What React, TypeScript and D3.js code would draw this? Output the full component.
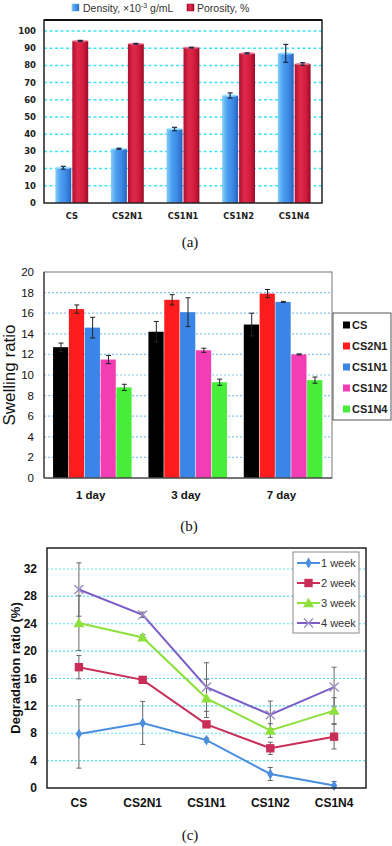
import React from 'react';
import * as d3 from 'd3';

// panel (a)
const cats = ['CS', 'CS2N1', 'CS1N1', 'CS1N2', 'CS1N4'];
const density = [20.5, 31.5, 43, 62.5, 87];
const densityErr = [0.8, 0.3, 1.0, 1.5, 5.2];
const porosity = [94.2, 92.5, 90.3, 87.0, 80.8];
const porosityErr = [0.3, 0.2, 0.2, 0.3, 0.8];
const ticksA = [0, 10, 20, 30, 40, 50, 60, 70, 80, 90, 100];

// panel (b)
const days = ['1 day', '3 day', '7 day'];
const swellSeries = ['CS', 'CS2N1', 'CS1N1', 'CS1N2', 'CS1N4'];
const swellColors = ['#000000', '#ff1c1c', '#3a86e6', '#f43cb4', '#46ee3a'];
const swCS = [12.7, 14.2, 14.9];
const swCS2N1 = [16.4, 17.3, 17.9];
const swCS1N1 = [14.6, 16.1, 17.1];
const swCS1N2 = [11.5, 12.4, 12.0];
const swCS1N4 = [8.8, 9.3, 9.5];
const swErrCS = [0.4, 1.0, 1.1];
const swErrCS2N1 = [0.4, 0.5, 0.4];
const swErrCS1N1 = [1.0, 1.4, 0.05];
const swErrCS1N2 = [0.4, 0.2, 0.05];
const swErrCS1N4 = [0.3, 0.3, 0.3];
const ticksB = [0, 2, 4, 6, 8, 10, 12, 14, 16, 18, 20];

// panel (c)
const weeks = ['1 week', '2 week', '3 week', '4 week'];
const weekColors = ['#4a8ee0', '#c82e58', '#8ee03c', '#7c5cc8'];
const wk1 = [7.9, 9.5, 7.0, 2.05, 0.35];
const wk2 = [17.65, 15.8, 9.3, 5.8, 7.5];
const wk3 = [24.1, 22.0, 13.1, 8.4, 11.3];
const wk4 = [29.0, 25.3, 14.75, 10.7, 14.75];
const wk1Err = [5.0, 3.15, 0.3, 0.95, 0.6];
const wk2Err = [1.7, 0.3, 0.3, 0.9, 1.8];
const wk3Err = [4.0, 0.4, 2.8, 1.0, 1.9];
const wk4Err = [3.9, 0.4, 3.55, 2.0, 2.9];
const ticksC = [0, 4, 8, 12, 16, 20, 24, 28, 32];

const sans = '"Liberation Sans", Arial, sans-serif';
const dvs = '"DejaVu Sans", Verdana, sans-serif';
const serif = '"Liberation Serif", "DejaVu Serif", serif';

const ErrBar = ({ x, y0, y1, cap, color, w = 1 }) => (
    <g stroke={color} strokeWidth={w}>
        <line x1={x} x2={x} y1={y0} y2={y1} />
        <line x1={x - cap} x2={x + cap} y1={y0} y2={y0} />
        <line x1={x - cap} x2={x + cap} y1={y1} y2={y1} />
    </g>
);

const PanelA = () => {
    const left = 44, right = 322, top = 20, bottom = 203;
    const x = d3.scaleBand().domain(cats).range([left, right]).paddingInner(0.41).paddingOuter(0.205);
    const sub = d3.scaleBand().domain(['d', 'p']).range([0, x.bandwidth()]).paddingInner(0.06);
    const y = d3.scaleLinear().domain([0, 100]).range([bottom, 31]);
    const bars = [
        { key: 'd', vals: density, errs: densityErr, fill: 'url(#gBlue)', cap: '#9ae4ff' },
        { key: 'p', vals: porosity, errs: porosityErr, fill: 'url(#gRed)', cap: '#f07088' }
    ];
    return (
        <g>
            <defs>
                <linearGradient id="gBlue" x1="0" x2="1" y1="0" y2="0">
                    <stop offset="0" stopColor="#86cdf8" />
                    <stop offset="0.3" stopColor="#4ea2f0" />
                    <stop offset="0.7" stopColor="#3a86e4" />
                    <stop offset="1" stopColor="#2a62bc" />
                </linearGradient>
                <linearGradient id="gRed" x1="0" x2="1" y1="0" y2="0">
                    <stop offset="0" stopColor="#b01030" />
                    <stop offset="0.35" stopColor="#e02a4a" />
                    <stop offset="0.7" stopColor="#d21c3e" />
                    <stop offset="1" stopColor="#9a0c28" />
                </linearGradient>
            </defs>
            {/* legend */}
            <rect x={72} y={4} width={7} height={7} fill="url(#gBlue)" stroke="#6ac" strokeWidth={0.5} />
            <text x={83} y={11.5} fontFamily={sans} fontSize={10.5} fill="#333">
                Density, ×10<tspan fontSize={7} dy={-4}>-3</tspan><tspan dy={4}> g/mL</tspan>
            </text>
            <rect x={187} y={4} width={7} height={7} fill="url(#gRed)" stroke="#803" strokeWidth={0.5} />
            <text x={197} y={11.5} fontFamily={sans} fontSize={10.5} fill="#333">Porosity, %</text>

            {ticksA.filter(t => t > 0).map(t => (
                <line key={t} x1={left} x2={right} y1={y(t)} y2={y(t)} stroke="#3ee4f2" strokeWidth={1.5} strokeDasharray="3 2.5" />
            ))}
            {ticksA.map(t => (
                <text key={t} x={36} y={y(t) + 3} textAnchor="end" fontFamily={dvs} fontWeight="bold" fontSize={8.5} fill="#222">{t}</text>
            ))}
            {bars.map(b => cats.map((c, i) => {
                const bx = x(c) + sub(b.key);
                const bw = sub.bandwidth();
                const yv = y(b.vals[i]);
                return (
                    <g key={b.key + c}>
                        <rect x={bx} y={yv} width={bw} height={bottom - yv} fill={b.fill} />
                        <ellipse cx={bx + bw / 2} cy={yv} rx={bw / 2} ry={1.3} fill={b.cap} opacity={0.8} />
                        <ErrBar x={bx + bw / 2} y0={y(b.vals[i] + b.errs[i])} y1={y(b.vals[i] - b.errs[i])} cap={2.5} color="#1c2a48" w={1.2} />
                    </g>
                );
            }))}
            <rect x={left} y={top} width={right - left} height={bottom - top} fill="none" stroke="#222" strokeWidth={1.5} />
            <line x1={left} x2={right} y1={top} y2={top} stroke="#111" strokeWidth={2} />
            {cats.map(c => (
                <text key={c} x={x(c) + x.bandwidth() / 2} y={219} textAnchor="middle" fontFamily={dvs} fontWeight="bold" fontSize={8.3} fill="#222">{c}</text>
            ))}
            <text x={190} y={247} textAnchor="middle" fontFamily={serif} fontSize={15} fill="#111">(a)</text>
        </g>
    );
};

const PanelB = () => {
    const left = 44, right = 332, top = 272, bottom = 478;
    const x0 = d3.scaleBand().domain(days).range([left, right]).paddingInner(0.17).paddingOuter(0.095);
    const x1 = d3.scaleBand().domain(swellSeries).range([0, x0.bandwidth()]).padding(0);
    const y = d3.scaleLinear().domain([0, 20]).range([bottom, top]);
    const vals = [swCS, swCS2N1, swCS1N1, swCS1N2, swCS1N4];
    const errs = [swErrCS, swErrCS2N1, swErrCS1N1, swErrCS1N2, swErrCS1N4];
    const legY = d3.scalePoint().domain(swellSeries).range([325, 409]);
    return (
        <g>
            {ticksB.filter(t => t > 0 && t < 20).map(t => (
                <line key={t} x1={left} x2={right} y1={y(t)} y2={y(t)} stroke="#86c4ea" strokeWidth={1.2} strokeDasharray="2 2" />
            ))}
            {ticksB.map(t => (
                <text key={t} x={34} y={y(t) + 4} textAnchor="end" fontFamily={sans} fontSize={11.5} fill="#111">{t}</text>
            ))}
            {swellSeries.map((s, si) => days.map((d, di) => {
                const bx = x0(d) + x1(s);
                const bw = x1.bandwidth();
                const v = vals[si][di];
                return (
                    <g key={s + d}>
                        <rect x={bx} y={y(v)} width={bw - 0.6} height={bottom - y(v)} fill={swellColors[si]} />
                        <ErrBar x={bx + bw / 2} y0={y(v + errs[si][di])} y1={y(v - errs[si][di])} cap={2.5} color="#222" w={1} />
                    </g>
                );
            }))}
            <rect x={left} y={top} width={right - left} height={bottom - top} fill="none" stroke="#777" strokeWidth={1} />
            <line x1={left} x2={left} y1={top} y2={bottom} stroke="#333" strokeWidth={1.2} />
            <line x1={left} x2={right} y1={bottom} y2={bottom} stroke="#333" strokeWidth={1.2} />
            {days.map(d => (
                <text key={d} x={x0(d) + x0.bandwidth() / 2 - 2} y={499} textAnchor="middle" fontFamily={sans} fontWeight="bold" fontSize={11.5} fill="#111">{d}</text>
            ))}
            <text transform="translate(15,375) rotate(-90)" textAnchor="middle" fontFamily={sans} fontSize={17} fill="#111">Swelling ratio</text>
            {/* legend */}
            <rect x={333} y={313} width={58} height={107} fill="#fff" stroke="#555" strokeWidth={1} />
            {swellSeries.map((s, si) => (
                <g key={s}>
                    <rect x={343} y={legY(s) - 3.5} width={7} height={7} fill={swellColors[si]} />
                    <text x={352} y={legY(s) + 4} fontFamily={sans} fontWeight="bold" fontSize={11} fill="#222">{s}</text>
                </g>
            ))}
            <text x={189} y={531} textAnchor="middle" fontFamily={serif} fontSize={15} fill="#111">(b)</text>
        </g>
    );
};

const Marker = ({ kind, x, y, color }) => {
    if (kind === 0) {
        return <path transform={`translate(${x},${y})`} d={d3.symbol(d3.symbolDiamond, 34)()} fill={color} />;
    }
    if (kind === 1) {
        return <path transform={`translate(${x},${y})`} d={d3.symbol(d3.symbolSquare, 70)()} fill={color} />;
    }
    if (kind === 2) {
        return <path transform={`translate(${x},${y + 1})`} d={d3.symbol(d3.symbolTriangle, 52)()} fill={color} />;
    }
    const r = 4.5;
    return (
        <path d={`M${x - r},${y - r}L${x + r},${y + r}M${x - r},${y + r}L${x + r},${y - r}`} stroke="#9a8cc0" strokeWidth={1.3} fill="none" />
    );
};

const PanelC = () => {
    const left = 47, right = 366, top = 548, bottom = 788;
    const x = d3.scalePoint().domain(cats).range([left, right]).padding(0.5);
    const y = d3.scaleLinear().domain([0, 32]).range([bottom, 569]);
    const series = [wk1, wk2, wk3, wk4];
    const errs = [wk1Err, wk2Err, wk3Err, wk4Err];
    const line = d3.line().x((d, i) => x(cats[i])).y(d => y(d));
    const legY = d3.scalePoint().domain(weeks).range([563, 623]);
    return (
        <g>
            {ticksC.filter(t => t > 0).map(t => (
                <line key={t} x1={left} x2={right} y1={y(t)} y2={y(t)} stroke="#5ce0f0" strokeWidth={1.2} strokeDasharray="2 2" />
            ))}
            {ticksC.map(t => (
                <text key={t} x={37} y={y(t) + 4} textAnchor="end" fontFamily={sans} fontWeight="bold" fontSize={12} fill="#111">{t}</text>
            ))}
            {series.map((s, si) => cats.map((c, i) => (
                <ErrBar key={si + c} x={x(c)} y0={y(s[i] + errs[si][i])} y1={y(Math.max(0, s[i] - errs[si][i]))} cap={2.5} color="#666" w={1} />
            )))}
            {series.map((s, si) => (
                <path key={si} d={line(s)} fill="none" stroke={weekColors[si]} strokeWidth={2} />
            ))}
            {series.map((s, si) => cats.map((c, i) => (
                <Marker key={si + c} kind={si} x={x(c)} y={y(s[i])} color={weekColors[si]} />
            )))}
            <rect x={left} y={top} width={right - left} height={bottom - top} fill="none" stroke="#222" strokeWidth={1.5} />
            {cats.map(c => (
                <text key={c} x={x(c)} y={807} textAnchor="middle" fontFamily={sans} fontWeight="bold" fontSize={12} fill="#111">{c}</text>
            ))}
            <text transform="translate(20,668) rotate(-90)" textAnchor="middle" fontFamily={sans} fontWeight="bold" fontSize={13} fill="#111">Degradation ratio (%)</text>
            {/* legend */}
            <rect x={293} y={552} width={66} height={81} fill="#fff" stroke="#888" strokeWidth={1} />
            {weeks.map((w, si) => (
                <g key={w}>
                    <line x1={297} x2={320} y1={legY(w)} y2={legY(w)} stroke={weekColors[si]} strokeWidth={2} />
                    <Marker kind={si} x={308.5} y={legY(w)} color={weekColors[si]} />
                    <text x={321} y={legY(w) + 4} fontFamily={sans} fontSize={11} fill="#333">{w}</text>
                </g>
            ))}
            <text x={190} y={840} textAnchor="middle" fontFamily={serif} fontSize={15} fill="#111">(c)</text>
        </g>
    );
};

const App = () => (
    <svg width={392} height={846} style={{ position: 'absolute', left: 0, top: 0, background: '#fff' }}>
        <rect width={392} height={846} fill="#fff" />
        <PanelA />
        <PanelB />
        <PanelC />
    </svg>
);

export default App;
